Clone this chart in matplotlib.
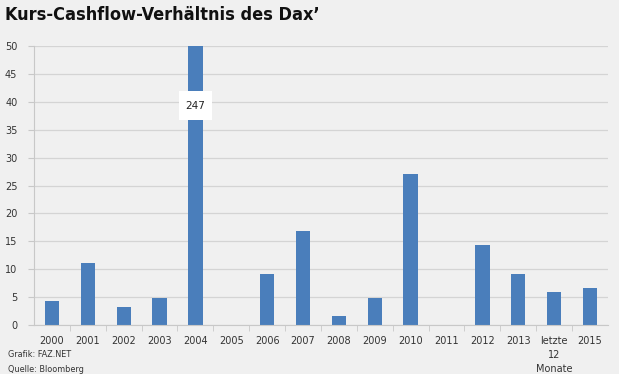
import matplotlib.pyplot as plt
from matplotlib.patches import Rectangle

# Daten
kategorien = ["2000", "2001", "2002", "2003", "2004", "2005", "2006", "2007",
              "2008", "2009", "2010", "2011", "2012", "2013",
              "letzte\n12\nMonate", "2015"]
kcv = [4.3, 11.1, 3.2, 4.8, 247, 0, 9.2, 16.8, 1.7, 4.8, 27.0, 0, 14.3, 9.2, 5.9, 6.6]
y_max = 50
bruch_unten, bruch_oben = 36.7, 41.9

bg = "#f0f0f0"
blau = "#4a7ebb"

fig = plt.figure(figsize=(6.19, 3.74), dpi=100, facecolor=bg)
ax = fig.add_axes([0.055, 0.131, 0.927, 0.746])
ax.set_facecolor(bg)

x = list(range(len(kategorien)))
ax.bar(x, kcv, width=0.4, color=blau, zorder=2)
ax.set_xlim(-0.5, len(kategorien) - 0.5)
ax.set_ylim(0, y_max)

# Achsenbruch für 2004
i = kcv.index(max(kcv))
ax.add_patch(Rectangle((i - 0.45, bruch_unten), 0.9, bruch_oben - bruch_unten,
                       facecolor="white", edgecolor="none", zorder=3))
ax.text(i, (bruch_unten + bruch_oben) / 2, f"{kcv[i]:.0f}", ha="center",
        va="center", fontsize=7.5, color="#222222", zorder=4)

ax.set_yticks(range(0, 51, 5))
ax.yaxis.grid(True, color="#d4d4d4", linewidth=0.9, zorder=0)
ax.set_xticks(x)
ax.set_xticklabels(kategorien, fontsize=7, color="#333333", linespacing=1.5)
ax.set_xticks([v + 0.5 for v in x[:-1]], minor=True)
ax.tick_params(axis="x", which="major", length=0, pad=8)
ax.tick_params(axis="x", which="minor", length=4, color="#c8c8c8")
ax.tick_params(axis="y", length=4, color="#c8c8c8", labelsize=7,
               labelcolor="#333333", pad=8)
for s in ["top", "right"]:
    ax.spines[s].set_visible(False)
ax.spines["left"].set_color("#c8c8c8")
ax.spines["bottom"].set_color("#c8c8c8")

fig.text(0.008, 0.985, "Kurs-Cashflow-Verhältnis des Dax’", fontsize=13,
         fontweight="bold", family="DejaVu Sans", fontstretch="condensed",
         va="top", ha="left", color="#111111")
fig.text(0.013, 0.04, "Grafik: FAZ.NET", fontsize=6.5,
         family="DejaVu Sans", fontstretch="condensed", color="#333333",
         va="bottom")
fig.text(0.013, 0.0, "Quelle: Bloomberg", fontsize=6.5,
         family="DejaVu Sans", fontstretch="condensed", color="#333333",
         va="bottom")

fig.savefig("out.png", dpi=100, facecolor=bg)
